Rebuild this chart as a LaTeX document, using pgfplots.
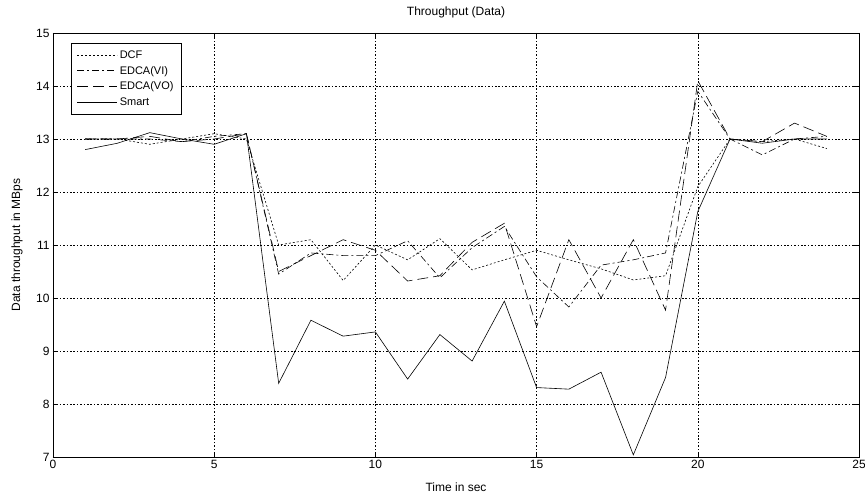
\documentclass[border=0pt]{standalone}
\usepackage{fontspec}
\setmainfont{Liberation Sans}
\usepackage{pgfplots}
\pgfplotsset{compat=1.18}
\usepackage{pgfplotstable}

% time (s) vs data throughput (MBps)
\pgfplotstableread{
t dcf vi vo smart
1 13.00 13.00 13.00 12.80
2 13.00 13.00 13.00 12.92
3 12.90 13.00 13.05 13.12
4 13.00 12.95 12.95 13.00
5 13.10 13.05 13.00 12.90
6 13.00 13.10 13.10 13.10
7 11.00 10.45 10.50 8.39
8 11.10 10.85 10.80 9.58
9 10.33 10.80 11.10 9.28
10 11.00 10.80 10.90 9.36
11 10.72 11.08 10.32 8.47
12 11.12 10.38 10.42 9.31
13 10.53 10.95 11.05 8.81
14 10.72 11.35 11.41 9.94
15 10.90 10.40 9.46 8.31
16 10.72 9.83 11.10 8.28
17 10.55 10.62 10.00 8.60
18 10.34 10.72 11.10 7.04
19 10.42 10.85 9.77 8.50
20 12.10 13.90 14.10 11.63
21 13.00 13.00 13.00 13.00
22 12.95 12.70 12.95 12.92
23 13.00 13.00 13.30 13.00
24 12.82 13.05 13.05 13.00
}\thr

\begin{document}
\begin{tikzpicture}
\begin{axis}[
    scale only axis,
    width=806pt, height=424pt,
    xmin=0, xmax=25, ymin=7, ymax=15,
    xtick={0,5,...,25}, ytick={7,8,...,15},
    tick align=inside, xtick pos=both, ytick pos=both,
    major tick length=5pt,
    grid=major,
    grid style={black, line width=0.5pt, dash pattern=on 1.6pt off 1.8pt},
    axis line style={black, line width=0.6pt},
    tick style={black, line width=0.5pt},
    font=\fontsize{12}{14}\selectfont,
    /pgf/number format/assume math mode=true,
    title={Throughput (Data)},
    xlabel={Time in sec},
    ylabel={Data throughput in MBps},
    every axis title/.style={at={(axis description cs:0.5,1.0495)}, anchor=center},
    every axis x label/.style={at={(axis description cs:0.5,-0.071)}, anchor=center},
    every axis y label/.style={at={(axis description cs:-0.0447,0.5)}, rotate=90, anchor=center},
    legend style={at={(0.0223,0.976)}, anchor=north west, draw=black, fill=white,
        font=\fontsize{11}{13}\selectfont, inner xsep=6pt, inner ysep=5pt,
        row sep=2.5pt},
    legend cell align=left,
    legend image code/.code={\draw[#1] (0pt,0pt) -- (40pt,0pt);},
    every axis plot/.append style={black, line width=0.6pt},
]
\addplot[dash pattern=on 2pt off 2pt] table[x=t, y=dcf] {\thr};
\addlegendentry{DCF}
\addplot[dash pattern=on 7pt off 3pt on 2pt off 3pt] table[x=t, y=vi] {\thr};
\addlegendentry{EDCA(VI)}
\addplot[dash pattern=on 11pt off 5pt] table[x=t, y=vo] {\thr};
\addlegendentry{EDCA(VO)}
\addplot[solid] table[x=t, y=smart] {\thr};
\addlegendentry{Smart}
\end{axis}
\pgfresetboundingbox
\path ([shift={(-53pt,-37pt)}]current axis.south west)
  rectangle ([shift={(6pt,33pt)}]current axis.north east);
\end{tikzpicture}
\end{document}
